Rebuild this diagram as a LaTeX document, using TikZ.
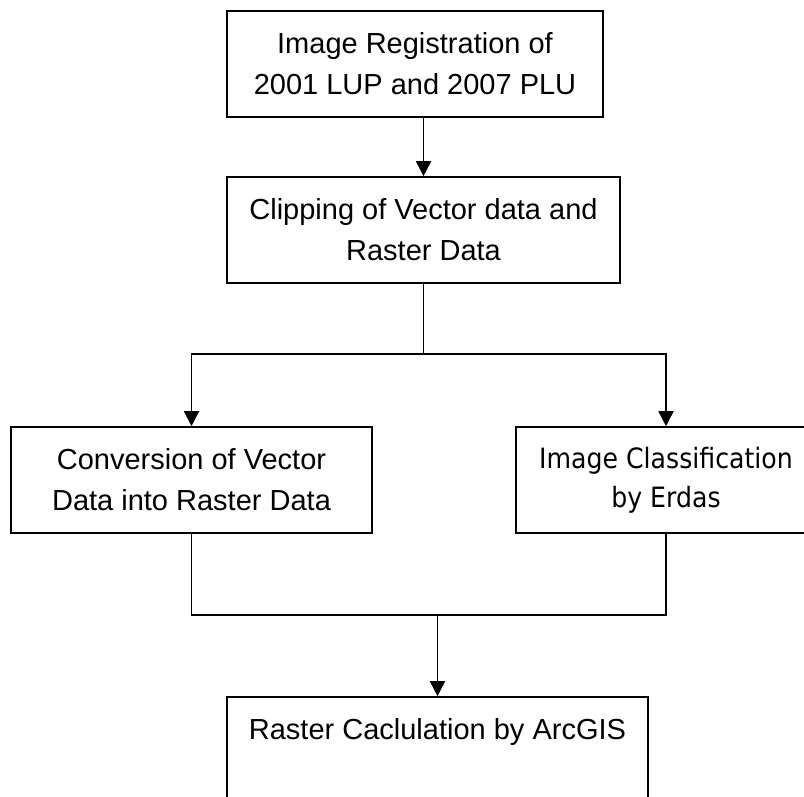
\documentclass[tikz,border=0pt]{standalone}
\usepackage{fontspec}
\setmainfont{Liberation Sans}
\newfontfamily\tahomalike[FakeStretch=0.9]{DejaVu Sans}
\usetikzlibrary{arrows.meta}
\tikzset{
  box/.style={draw=black, line width=1.6pt, inner sep=0pt, align=center,
    font=\fontsize{29}{41}\selectfont, minimum height=106pt},
  conn/.style={draw=black, line width=1.6pt},
  arr/.style={conn, -{Triangle[length=15pt,width=15pt]}}
}
\begin{document}
\begin{tikzpicture}[x=1pt,y=1pt]
\useasboundingbox (0,0) rectangle (804,-796);
\clip (0,0) rectangle (804,-796);
\node[box, minimum width=376pt] (b1) at (415,-64) {Image Registration of\\2001 LUP and 2007 PLU};
\node[box, minimum width=393pt] (b2) at (423.5,-230) {Clipping of Vector data and\\Raster Data};
\node[box, minimum width=361pt] (b3) at (191.5,-480) {Conversion of Vector\\Data into Raster Data};
\node[box, minimum width=300pt, font=\tahomalike\fontsize{28}{39}\selectfont] (b4) at (666,-480) {Image Classification\\by Erdas};
\node[draw=black, line width=1.6pt, inner sep=0pt, minimum width=421pt,
  text height=42pt, text depth=64pt, font=\fontsize{29}{41}\selectfont,
  anchor=base] (b5) at (437.5,-739) {Raster Caclulation by ArcGIS};
\coordinate (split) at (423.5,-354);
\coordinate (merge) at (437.5,-615);
\draw[arr] (b2.north |- b1.south) -- (b2.north);
\draw[conn] (b2.south) -- (split);
\draw[arr] (split) -| (b3.north);
\draw[arr] (split) -| (b4.north);
\draw[conn] (b3.south) |- (b4.south |- merge) -- (b4.south);
\draw[arr] (merge) -- (b5.north);
\end{tikzpicture}
\end{document}
